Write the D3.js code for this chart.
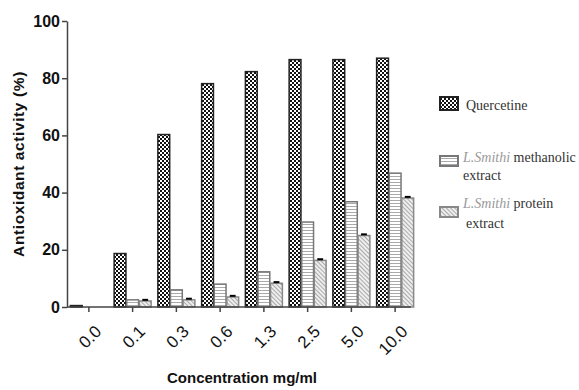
<!DOCTYPE html>
<html>
<head>
<meta charset="utf-8">
<script src="https://cdn.jsdelivr.net/npm/d3@7"></script>
<style>
  body { margin: 0; background: #fff; }
  svg { display: block; }
  .axis text { font-family: Arial, "Liberation Sans", sans-serif; fill: #111; }
  .legend text { font-family: "Liberation Serif", "Times New Roman", serif; font-size: 14px; }
</style>
</head>
<body>
<div id="chart"></div>
<script>
const categories = ['0.0', '0.1', '0.3', '0.6', '1.3', '2.5', '5.0', '10.0'];
const quercetine = [0.5, 18.7, 60.3, 78.1, 82.3, 86.5, 86.5, 87];
const methanolic = [0, 2.5, 6, 8, 12.3, 29.7, 36.8, 46.8];
const protein = [0, 2.1, 2.5, 3.5, 8.3, 16.3, 25, 38.1];
const proteinErr = [0, 0.4, 0.4, 0.4, 0.4, 0.4, 0.4, 0.4];
const yTicks = [0, 20, 40, 60, 80, 100];

const width = 579, height = 390;
const margin = { top: 21, right: 162, bottom: 83, left: 67 };

const series = [
    { key: 'q', values: quercetine, fill: 'url(#checker)', stroke: '#222' },
    { key: 'm', values: methanolic, fill: 'url(#hlines)', stroke: '#777' },
    { key: 'p', values: protein, fill: 'url(#hatch)', stroke: '#888', err: proteinErr }
];

const svg = d3.select('#chart').append('svg')
    .attr('width', width)
    .attr('height', height);

// patterns
const defs = svg.append('defs');
const checker = defs.append('pattern').attr('id', 'checker')
    .attr('patternUnits', 'userSpaceOnUse').attr('width', 4).attr('height', 4);
checker.append('rect').attr('width', 4).attr('height', 4).attr('fill', '#111');
checker.append('rect').attr('x', 0).attr('y', 0).attr('width', 2).attr('height', 2).attr('fill', '#fff');
checker.append('rect').attr('x', 2).attr('y', 2).attr('width', 2).attr('height', 2).attr('fill', '#fff');

const hlines = defs.append('pattern').attr('id', 'hlines')
    .attr('patternUnits', 'userSpaceOnUse').attr('width', 4).attr('height', 3);
hlines.append('rect').attr('width', 4).attr('height', 3).attr('fill', '#fff');
hlines.append('rect').attr('y', 2).attr('width', 4).attr('height', 1).attr('fill', '#aaa');

const hatch = defs.append('pattern').attr('id', 'hatch')
    .attr('patternUnits', 'userSpaceOnUse').attr('width', 3).attr('height', 3)
    .attr('patternTransform', 'rotate(-45)');
hatch.append('rect').attr('width', 3).attr('height', 3).attr('fill', '#eee');
hatch.append('rect').attr('width', 1).attr('height', 3).attr('fill', '#aaa');

const x = d3.scaleBand()
    .domain(categories)
    .range([margin.left, margin.left + 8 * 43.75]);
const xSub = d3.scaleBand()
    .domain(series.map(s => s.key))
    .range([-18.5, 18.5])
    .paddingInner(0.06);
const y = d3.scaleLinear()
    .domain([0, 100])
    .range([height - margin.bottom, margin.top]);

// bars
const groups = svg.append('g').selectAll('g')
    .data(series)
    .join('g');

groups.selectAll('rect')
    .data(s => s.values.map((v, i) => ({ s, v, c: categories[i] })))
    .join('rect')
    .attr('x', d => x(d.c) + x.bandwidth() / 2 + xSub(d.s.key))
    .attr('y', d => y(d.v))
    .attr('width', xSub.bandwidth())
    .attr('height', d => y(0) - y(d.v))
    .attr('fill', d => d.s.fill)
    .attr('stroke', d => d.v > 0 ? d.s.stroke : 'none')
    .attr('stroke-width', 1.5);

// small error caps
groups.filter(s => s.err).selectAll('line.err')
    .data(s => s.values.map((v, i) => ({ s, v, c: categories[i], e: s.err[i] })).filter(d => d.e > 0))
    .join('line')
    .attr('class', 'err')
    .attr('x1', d => x(d.c) + x.bandwidth() / 2 + xSub(d.s.key) + 3)
    .attr('x2', d => x(d.c) + x.bandwidth() / 2 + xSub(d.s.key) + xSub.bandwidth() - 3)
    .attr('y1', d => y(d.v + d.e))
    .attr('y2', d => y(d.v + d.e))
    .attr('stroke', '#000')
    .attr('stroke-width', 2);

// axes
const yAxis = svg.append('g')
    .attr('class', 'axis')
    .attr('transform', `translate(${margin.left},0)`)
    .call(d3.axisLeft(y).tickValues(yTicks).tickSize(5).tickSizeOuter(0));
yAxis.selectAll('text')
    .attr('font-size', 16)
    .attr('font-weight', 'bold')
    .attr('x', -7);

const xAxis = svg.append('g')
    .attr('class', 'axis')
    .attr('transform', `translate(0,${y(0)})`)
    .call(d3.axisBottom(x).tickSize(5).tickSizeOuter(0));
xAxis.select('.domain').attr('d', `M${margin.left},0H${x.range()[1] - 6}`);
xAxis.selectAll('text')
    .attr('font-size', 17)
    .attr('fill', '#222')
    .attr('text-anchor', 'end')
    .attr('dy', 0)
    .attr('transform', 'translate(8,20) rotate(-45)');

svg.selectAll('.axis .domain, .axis .tick line')
    .attr('stroke', '#444')
    .attr('stroke-width', 1.5);

// axis titles
svg.append('text')
    .attr('transform', `translate(24,${(margin.top + y(0)) / 2 + 0}) rotate(-90)`)
    .attr('text-anchor', 'middle')
    .attr('font-family', 'Arial, "Liberation Sans", sans-serif')
    .attr('font-weight', 'bold')
    .attr('font-size', 15.5)
    .attr('letter-spacing', 0.6)
    .attr('fill', '#111')
    .text('Antioxidant activity (%)');

svg.append('text')
    .attr('x', 242)
    .attr('y', 383)
    .attr('text-anchor', 'middle')
    .attr('font-family', 'Arial, "Liberation Sans", sans-serif')
    .attr('font-weight', 'bold')
    .attr('font-size', 15)
    .attr('fill', '#111')
    .text('Concentration mg/ml');

// legend
const legend = svg.append('g').attr('class', 'legend');
const legendItems = [
    { s: series[0], y: 97, lines: [[null, 'Quercetine']], ty: [110], indent: [3] },
    { s: series[1], y: 156, lines: [['L.Smithi', ' methanolic'], [null, 'extract']], ty: [162, 180], indent: [0, 0] },
    { s: series[2], y: 207, lines: [['L.Smithi', ' protein'], [null, ' extract']], ty: [208, 228], indent: [0, 3] }
];
legendItems.forEach(item => {
    legend.append('rect')
        .attr('x', 440).attr('y', item.y)
        .attr('width', 18).attr('height', item.s.key === 'q' ? 13 : 10)
        .attr('fill', item.s.fill)
        .attr('stroke', item.s.stroke)
        .attr('stroke-width', 2);
    item.lines.forEach((ln, i) => {
        const t = legend.append('text')
            .attr('x', 463 + item.indent[i])
            .attr('y', item.ty[i])
            .attr('fill', '#333');
        if (ln[0]) t.append('tspan').attr('font-style', 'italic').attr('fill', '#999').text(ln[0]);
        t.append('tspan').text(ln[1]);
    });
});
</script>
</body>
</html>
